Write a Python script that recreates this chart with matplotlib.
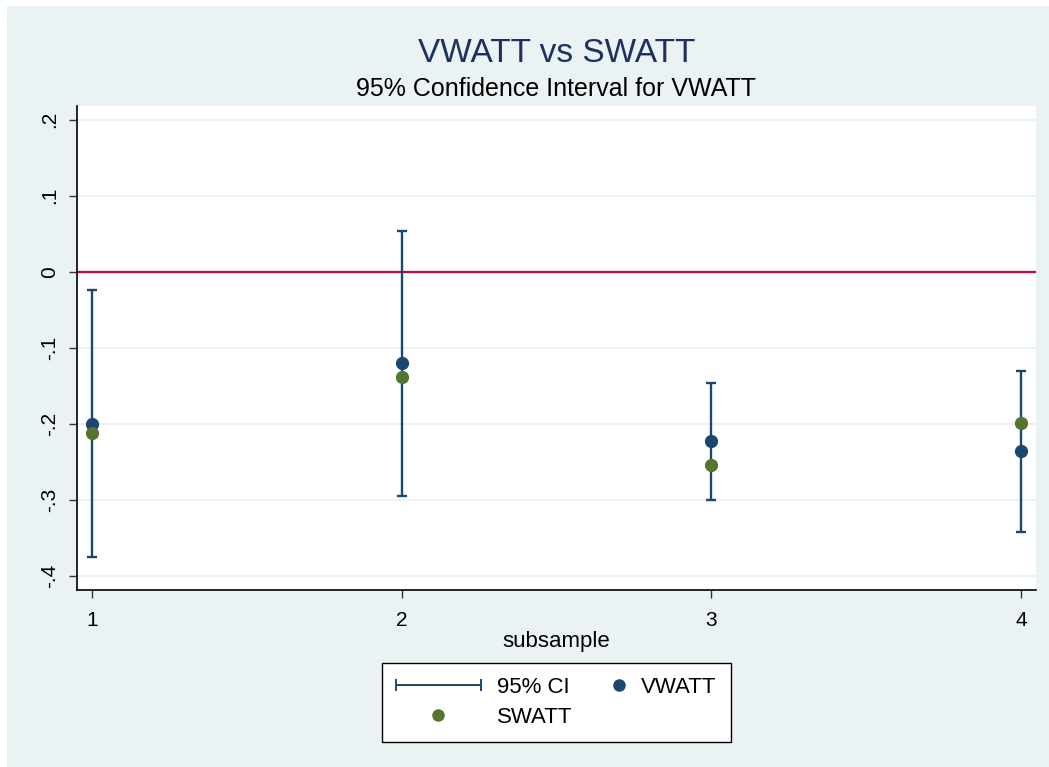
import numpy as np
import matplotlib
matplotlib.use("Agg")
import matplotlib.pyplot as plt
from matplotlib.lines import Line2D
from matplotlib.legend_handler import HandlerLine2D
import matplotlib.patches as mpatches

plt.rcParams['font.family'] = ['Liberation Sans', 'DejaVu Sans']

# estimates per subsample
subsample = [1, 2, 3, 4]
vwatt = [-0.200, -0.120, -0.222, -0.235]
swatt = [-0.212, -0.138, -0.254, -0.199]
ci_low = [-0.375, -0.295, -0.300, -0.342]
ci_high = [-0.024, 0.054, -0.146, -0.130]

yticks = [-0.4, -0.3, -0.2, -0.1, 0, 0.1, 0.2]
ytick_labels = ['-.4', '-.3', '-.2', '-.1', '0', '.1', '.2']

bg = '#eaf2f3'
navy = '#1a476f'
green = '#55752f'


class HandlerDotRight(HandlerLine2D):
    # the single marker sits at the middle of xdata, so shift that span right
    def get_xdata(self, legend, xdescent, ydescent, width, height, fontsize):
        xs = [-xdescent + 0.84 * width, -xdescent + width]
        return xs, xs


fig = plt.figure(figsize=(10.49, 7.67), dpi=100, facecolor='white')
fig.patches.append(mpatches.Rectangle((7 / 1049, 0), 1, 1 - 6 / 767,
                                      transform=fig.transFigure,
                                      facecolor=bg, edgecolor='none', zorder=-10))

ax = fig.add_axes([77 / 1049, 1 - 590 / 767, (1036 - 77) / 1049, (590 - 106) / 767])
ax.set_facecolor('white')

x = np.array(subsample)
lo = np.array(ci_low)
hi = np.array(ci_high)
cap = 0.016

ax.axhline(0, color='#c10534', lw=1.6, zorder=2)
ax.vlines(x, lo, hi, color=navy, lw=1.7, zorder=3)
ax.hlines(lo, x - cap, x + cap, color=navy, lw=1.7, zorder=3)
ax.hlines(hi, x - cap, x + cap, color=navy, lw=1.7, zorder=3)
ax.plot(x, vwatt, 'o', color=navy, ms=8.5, zorder=4)
ax.plot(x, swatt, 'o', color=green, ms=8.5, zorder=4)

ax.set_xlim(0.952, 4.048)
ax.set_ylim(-0.418, 0.218)
ax.set_xticks(subsample)
ax.set_yticks(yticks)
ax.set_yticklabels(ytick_labels, rotation=90, va='center')
ax.tick_params(axis='both', labelsize=15, direction='out', length=6, width=1,
               color='#333333')
ax.tick_params(axis='x', pad=9)
ax.tick_params(axis='y', pad=7)
ax.grid(axis='y', color=bg, lw=1.4, zorder=1)
ax.set_axisbelow(True)

for side in ['top', 'right']:
    ax.spines[side].set_visible(False)
for side in ['left', 'bottom']:
    ax.spines[side].set_linewidth(1.2)

ax.set_xlabel('subsample', fontsize=16, labelpad=1)

ax.text(0.5, 1 + 44 / 484, 'VWATT vs SWATT', transform=ax.transAxes,
        ha='center', va='baseline', fontsize=24, color='#1e3060')
ax.text(0.5, 1 + 10 / 484, '95% Confidence Interval for VWATT', transform=ax.transAxes,
        ha='center', va='baseline', fontsize=18, color='black')

# legend
ci_handle = Line2D([0, 1], [0, 0], color=navy, lw=1.4, marker='|', ms=9, mew=1.4)
v_handle = Line2D([], [], ls='none', marker='o', color=navy, ms=8)
s_handle = Line2D([], [], ls='none', marker='o', color=green, ms=8)
leg = ax.legend([ci_handle, s_handle, v_handle], ['95% CI', 'SWATT', 'VWATT'],
                ncol=2, loc='upper center', bbox_to_anchor=(0.5, -0.151),
                borderaxespad=0,
                fontsize=16, frameon=True, fancybox=False, edgecolor='black',
                framealpha=1, facecolor='white',
                handlelength=3.8, handletextpad=0.72, columnspacing=-1.4,
                borderpad=0.62, labelspacing=0.42,
                handler_map={ci_handle: HandlerLine2D(numpoints=2, marker_pad=0),
                             v_handle: HandlerDotRight()})
leg.get_frame().set_linewidth(1.0)

fig.savefig('out.png', dpi=100, facecolor='white')
